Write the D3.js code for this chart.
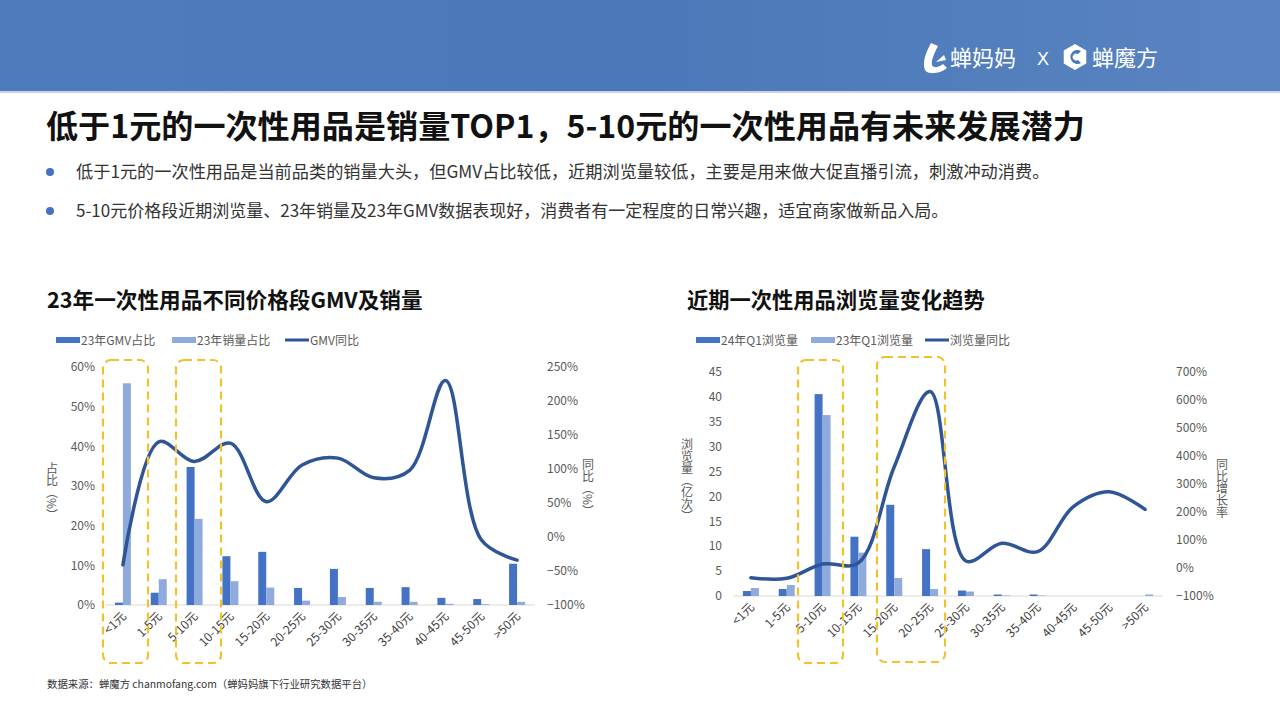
<!DOCTYPE html>
<html><head><meta charset="utf-8">
<script src="https://cdn.jsdelivr.net/npm/d3@7"></script>
<style>
html,body{margin:0;padding:0;background:#fff;}
svg{display:block;font-family:"Noto Sans CJK SC","Noto Sans",sans-serif;}
</style></head>
<body><svg id="c" width="1280" height="720"></svg>
<script>
// ---------- data ----------
const categories = ["<1元","1-5元","5-10元","10-15元","15-20元","20-25元","25-30元","30-35元","35-40元","40-45元","45-50元",">50元"];
// left chart (23年 GMV / sales share, GMV yoy)
const gmvShare   = [0.006,0.031,0.348,0.123,0.134,0.043,0.091,0.043,0.045,0.018,0.015,0.104];
const salesShare = [0.559,0.065,0.217,0.060,0.044,0.011,0.020,0.008,0.008,0.003,0.002,0.008];
const gmvYoy     = [-0.41,1.40,1.11,1.38,0.52,1.06,1.16,0.87,0.98,2.30,-0.04,-0.34];
const leftTicks  = [0,0.1,0.2,0.3,0.4,0.5,0.6];
const leftRTicks = [-1,-0.5,0,0.5,1,1.5,2,2.5];
// right chart (page views, 亿次)
const views24Q1  = [1.0,1.4,40.5,11.9,18.3,9.4,1.1,0.3,0.3,0,0,0];
const views23Q1  = [1.6,2.2,36.3,8.7,3.6,1.4,0.9,0.1,0.1,0,0,0.3];
const viewsYoy   = [-0.35,-0.37,0.14,0.18,3.61,6.29,0.25,0.88,0.58,2.19,2.72,2.09];
const rightTicks = [0,5,10,15,20,25,30,35,40,45];
const rightRTicks= [-1,0,1,2,3,4,5,6,7];

const C_DARK="#4472C4", C_LIGHT="#8FAADC", C_LINE="#2F5597", C_TXT="#595959", C_Y="#F2C12E";

const svg = d3.select("#c");
const defs = svg.append("defs");
const hg = defs.append("linearGradient").attr("id","hdr").attr("x1","0").attr("x2","1").attr("y1","0").attr("y2","0");
hg.append("stop").attr("offset","0").attr("stop-color","#4E7BBB");
hg.append("stop").attr("offset","0.5").attr("stop-color","#4B78B8");
hg.append("stop").attr("offset","1").attr("stop-color","#5A84C1");

// header
svg.append("rect").attr("x",0).attr("y",0).attr("width",1280).attr("height",93).attr("fill","url(#hdr)");
svg.append("rect").attr("x",0).attr("y",91).attr("width",1280).attr("height",2).attr("fill","#C9D3E3");
// logos
const lg = svg.append("g").attr("fill","#fff");
lg.append("path").attr("d","M931,43 C926,52 922,62 925,70 C928,75 940,74 947,68 L943,64 C938,68 933,68 932,65 C931,60 935,52 938,46 Z");
lg.append("path").attr("d","M936,62 L944,55 L946,60 Z");
lg.append("text").attr("x",950).attr("y",66).attr("font-size",22).text("蝉妈妈");
lg.append("text").attr("x",1037).attr("y",65).attr("font-size",18).attr("font-family","Liberation Sans, sans-serif").attr("font-weight",300).text("X");
const hx=1075, hy=57, hr=13;
lg.append("path").attr("d", d3.range(6).map((i)=>{const a=Math.PI/3*i+Math.PI/6;return (i?"L":"M")+(hx+hr*Math.cos(a))+","+(hy+hr*Math.sin(a));}).join("")+"Z");
lg.append("path").attr("fill","#4B78B8").attr("d","M1081,51 A7,7 0 1 0 1081,63 L1078,60 A3.5,3.5 0 1 1 1078,54 Z");
lg.append("text").attr("x",1092).attr("y",66).attr("font-size",22).text("蝉魔方");

// helper: fit text to width
function fitText(sel, w){ const n=sel.node(); const L=n.getComputedTextLength(); const fs=parseFloat(sel.attr("font-size")); sel.attr("font-size", fs*w/L); }

// title & bullets
const t = svg.append("text").attr("x",46).attr("y",138).attr("font-size",30).attr("font-weight",700).attr("fill","#111")
  .text("低于1元的一次性用品是销量TOP1，5-10元的一次性用品有未来发展潜力");
fitText(t,1039);
const bullets = ["低于1元的一次性用品是当前品类的销量大头，但GMV占比较低，近期浏览量较低，主要是用来做大促直播引流，刺激冲动消费。",
                 "5-10元价格段近期浏览量、23年销量及23年GMV数据表现好，消费者有一定程度的日常兴趣，适宜商家做新品入局。"];
const bw=[974,873];
bullets.forEach((b,i)=>{
  const y=[172,211][i];
  svg.append("circle").attr("cx",50).attr("cy",y).attr("r",4).attr("fill",C_DARK);
  const tt=svg.append("text").attr("x",76).attr("y",y+5.5).attr("font-size",15).attr("fill","#333").text(b);
  fitText(tt,bw[i]);
});

// chart titles
const ct1=svg.append("text").attr("x",47).attr("y",308).attr("font-size",20).attr("font-weight",700).attr("fill","#111").text("23年一次性用品不同价格段GMV及销量");
fitText(ct1,376);
const ct2=svg.append("text").attr("x",687).attr("y",308).attr("font-size",20).attr("font-weight",700).attr("fill","#111").text("近期一次性用品浏览量变化趋势");
fitText(ct2,298);

// footer
const ft=svg.append("text").attr("x",47).attr("y",688).attr("font-size",11).attr("fill","#333").text("数据来源：蝉魔方 chanmofang.com（蝉妈妈旗下行业研究数据平台）");
fitText(ft,326);

function legend(labels, xs){
  const g=svg.append("g");
  g.append("rect").attr("x",xs[0]).attr("y",337).attr("width",24).attr("height",6).attr("fill",C_DARK);
  g.append("rect").attr("x",xs[1]).attr("y",337).attr("width",24).attr("height",6).attr("fill",C_LIGHT);
  g.append("line").attr("x1",xs[2]).attr("x2",xs[2]+24).attr("y1",340).attr("y2",340).attr("stroke",C_LINE).attr("stroke-width",3);
  labels.forEach((l,i)=>g.append("text").attr("x",xs[i]+25).attr("y",344.5).attr("font-size",12).attr("fill",C_TXT).text(l));
}

// vertical text (CJK upright, brackets rotated)
function vtext(x,y,str,orient){
  svg.append("text").attr("x",x).attr("y",y).attr("font-size",12).attr("fill",C_TXT)
    .style("font-family","'Noto Sans CJK SC'")
    .style("writing-mode","vertical-rl").style("text-orientation",orient||"mixed").text(str);
}

function chart(o){
  const x=d3.scaleBand().domain(categories).range([o.x0,o.x1]);
  const yL=d3.scaleLinear().domain(o.lDom).range([o.yB,o.yT]);
  const yR=d3.scaleLinear().domain(o.rDom).range([o.yB,o.yT]);
  const g=svg.append("g");
  g.append("line").attr("x1",o.x0).attr("x2",o.x1).attr("y1",o.yB).attr("y2",o.yB).attr("stroke","#D9D9D9").attr("stroke-width",1.2);
  const al=g.append("g").attr("transform",`translate(${o.lx},0)`).call(d3.axisLeft(yL).tickValues(o.lTicks).tickFormat(o.lFmt).tickSize(0).tickPadding(0));
  al.select(".domain").remove();
  al.selectAll("text").attr("font-size",12).attr("fill",C_TXT).attr("font-family","Noto Sans CJK SC");
  const ar=g.append("g").attr("transform",`translate(${o.rx},0)`).call(d3.axisRight(yR).tickValues(o.rTicks).tickFormat(d3.format(".0%")).tickSize(0).tickPadding(0));
  ar.select(".domain").remove();
  ar.selectAll("text").attr("font-size",12).attr("fill",C_TXT).attr("font-family","Noto Sans CJK SC");
  const bwid=8, bc=x.bandwidth()/2;
  g.selectAll(".d").data(o.a).join("rect").attr("x",(d,i)=>x(categories[i])+bc-bwid).attr("width",bwid)
    .attr("y",d=>yL(d)).attr("height",d=>o.yB-yL(d)).attr("fill",C_DARK);
  g.selectAll(".l").data(o.b).join("rect").attr("x",(d,i)=>x(categories[i])+bc).attr("width",bwid)
    .attr("y",d=>yL(d)).attr("height",d=>o.yB-yL(d)).attr("fill",C_LIGHT);
  g.selectAll(".xl").data(categories).join("text")
    .attr("transform",d=>`translate(${x(d)+bc+4},${o.yB+12}) rotate(-45)`)
    .attr("text-anchor","end").attr("font-size",12).attr("fill","#404040").text(d=>d);
  const line=d3.line().x((d,i)=>x(categories[i])+bc).y(d=>yR(d)).curve(d3.curveCatmullRom.alpha(0.5));
  g.append("path").datum(o.c).attr("d",line).attr("fill","none").attr("stroke",C_LINE).attr("stroke-width",3.5).attr("stroke-linecap","round");
}

chart({x0:105,x1:535,yB:605,yT:367,lDom:[0,0.6],rDom:[-1,2.5],lTicks:leftTicks,rTicks:leftRTicks,
  lFmt:d3.format(".0%"),lx:95,rx:547,a:gmvShare,b:salesShare,c:gmvYoy});
chart({x0:733,x1:1163,yB:596,yT:371.7,lDom:[0,45],rDom:[-1,7],lTicks:rightTicks,rTicks:rightRTicks,
  lFmt:d3.format("d"),lx:722,rx:1176,a:views24Q1,b:views23Q1,c:viewsYoy});

legend(["23年GMV占比","23年销量占比","GMV同比"],[56,172,285]);
legend(["24年Q1浏览量","23年Q1浏览量","浏览量同比"],[696,811,925]);

vtext(52,462,"占比（%）");
vtext(588,458,"同比（%）");
vtext(687,438,"浏览量（亿次）");
vtext(1222,458,"同比增长率","upright");

// highlight boxes
[[103,360,45,303],[176,360,45,303],[798,360,45,303],[877,357,68,305]].forEach(r=>{
  svg.append("rect").attr("x",r[0]).attr("y",r[1]).attr("width",r[2]).attr("height",r[3]).attr("rx",8)
    .attr("fill","none").attr("stroke",C_Y).attr("stroke-width",2.2).attr("stroke-dasharray","8,5");
});
</script></body></html>
